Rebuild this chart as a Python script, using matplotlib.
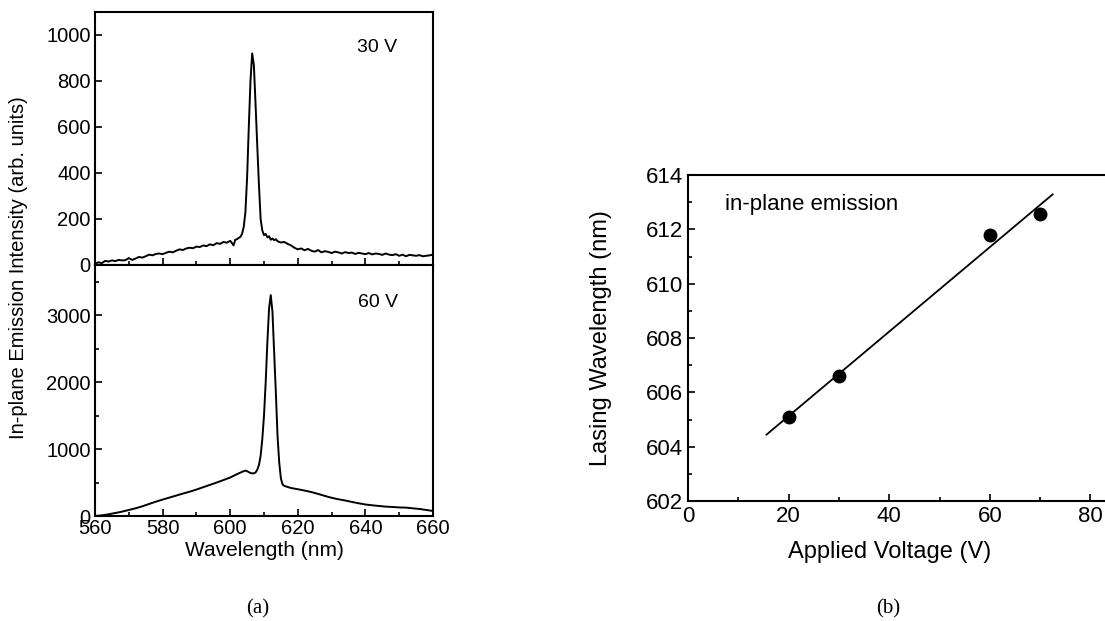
import numpy as np
import matplotlib
matplotlib.use("Agg")
import matplotlib.pyplot as plt
from matplotlib.ticker import MultipleLocator

plt.rcParams['font.family'] = ['Liberation Sans', 'DejaVu Sans']

# ---- data ----
# 30 V spectrum (nm, arb. units)
wl30 = np.concatenate([np.arange(560, 600, 1.0), np.arange(600, 615.5, 0.5), np.arange(616, 661, 1.0)])
int30 = [5, 12, 8, 18, 15, 20, 17, 22, 20, 21,
         30, 22, 28, 35, 32, 38, 45, 42, 48, 50,
         47, 53, 58, 55, 62, 68, 65, 72, 75, 73,
         80, 78, 85, 82, 90, 86, 95, 92, 100, 97,
         # 600 .. 615 by 0.5
         105, 96, 85, 110, 112, 118, 122, 135, 165, 230, 380, 600, 800, 920, 870, 700,
         520, 350, 200, 150, 130, 135, 120, 125, 110, 115, 108, 112, 104, 100, 98,
         # 616 .. 660
         100, 92, 85, 75, 68, 72, 64, 70, 62, 58,
         65, 55, 60, 57, 52, 58, 55, 50, 56, 52,
         54, 48, 53, 50, 47, 52, 46, 50, 48, 44,
         50, 45, 43, 47, 40, 45, 38, 44, 42, 40,
         43, 38, 40, 42, 45]

# 60 V spectrum (nm, arb. units)
wl60 = np.concatenate([np.arange(560, 605, 2.0), np.arange(604.5, 616.5, 0.5), np.arange(618, 661, 2.0)])
int60 = [0, 10, 25, 45, 65, 90, 115, 145, 180, 214, 245, 275,
         305, 335, 363, 395, 430, 465, 500, 537, 575, 625, 670,
         # 604.5 .. 616 by 0.5
         678, 670, 655, 642, 637, 638, 650, 690, 760, 900, 1150, 1500,
         2000, 2600, 3100, 3300, 3050, 2450, 1850, 1200, 800, 560, 470, 450,
         # 618 .. 660 by 2
         418, 400, 380, 358, 330, 300, 272, 250, 232, 210, 190,
         172, 160, 150, 140, 135, 128, 125, 115, 105, 90, 75]

# lasing wavelength vs voltage
voltage = [20, 30, 60, 70]
lasing_wl = [605.1, 606.6, 611.8, 612.55]
fit_range = [15.6, 72.5]

W, H = 1105, 621
fig = plt.figure(figsize=(W / 100, H / 100), dpi=100)


def box(left, top, right, bottom):
    return [left / W, 1 - bottom / H, (right - left) / W, (bottom - top) / H]


ax1 = fig.add_axes(box(95, 12, 433, 265))
ax2 = fig.add_axes(box(95, 265, 433, 516), sharex=ax1)
ax3 = fig.add_axes(box(688, 175, 1191, 501))

ax1.plot(wl30, int30, color='black', lw=1.4)
ax2.plot(wl60, int60, color='black', lw=1.4)

ax1.set_xlim(560, 660)
ax1.set_ylim(0, 1100)
ax2.set_ylim(0, 3750)

ax1.yaxis.set_major_locator(MultipleLocator(200))
ax2.yaxis.set_major_locator(MultipleLocator(1000))
ax2.yaxis.set_minor_locator(MultipleLocator(500))
ax2.xaxis.set_major_locator(MultipleLocator(20))
ax2.xaxis.set_minor_locator(MultipleLocator(10))

for ax in (ax1, ax2):
    ax.tick_params(which='both', direction='in', top=False, right=False, labelsize=14.5, width=1.2)
    ax.tick_params(which='major', length=5)
    ax.tick_params(which='minor', length=3)
    ax.tick_params(axis='y', pad=3)
    ax.tick_params(axis='x', pad=2)
    for s in ax.spines.values():
        s.set_linewidth(1.5)
ax1.tick_params(axis='x', labelbottom=False)

fig.text(377 / W, 1 - 48 / H, '30 V', fontsize=14, ha='center', va='center')
fig.text(378 / W, 1 - 303 / H, '60 V', fontsize=14, ha='center', va='center')
ax2.set_xlabel('Wavelength (nm)', fontsize=15, labelpad=2)
fig.text(19 / W, 1 - 268 / H, 'In-plane Emission Intensity (arb. units)', fontsize=14.5,
         rotation=90, ha='center', va='center')

# right panel
ax3.plot(voltage, lasing_wl, 'o', color='black', ms=9)
p = np.polyfit(voltage, lasing_wl, 1)
ax3.plot(fit_range, np.polyval(p, fit_range), color='black', lw=1.3)
ax3.set_xlim(0, 100)
ax3.set_ylim(602, 614)
ax3.xaxis.set_major_locator(MultipleLocator(20))
ax3.xaxis.set_minor_locator(MultipleLocator(10))
ax3.yaxis.set_major_locator(MultipleLocator(2))
ax3.yaxis.set_minor_locator(MultipleLocator(1))
ax3.tick_params(which='both', direction='in', top=False, right=False, labelsize=16, width=1.2)
ax3.tick_params(which='major', length=5)
ax3.tick_params(which='minor', length=3)
for s in ax3.spines.values():
    s.set_linewidth(1.5)
ax3.spines['right'].set_visible(False)
ax3.text(7.3, 612.9, 'in-plane emission', fontsize=16, ha='left', va='center')
fig.text(890 / W, 1 - 552 / H, 'Applied Voltage (V)', fontsize=17, ha='center', va='center')
fig.text(601 / W, 1 - 338 / H, 'Lasing Wavelength (nm)', fontsize=17, rotation=90,
         ha='center', va='center')

fig.text(258 / W, 1 - 609 / H, '(a)', fontsize=15, family='Liberation Serif', ha='center', va='center')
fig.text(888 / W, 1 - 609 / H, '(b)', fontsize=15, family='Liberation Serif', ha='center', va='center')

fig.savefig('out.png', dpi=100, facecolor='white')
